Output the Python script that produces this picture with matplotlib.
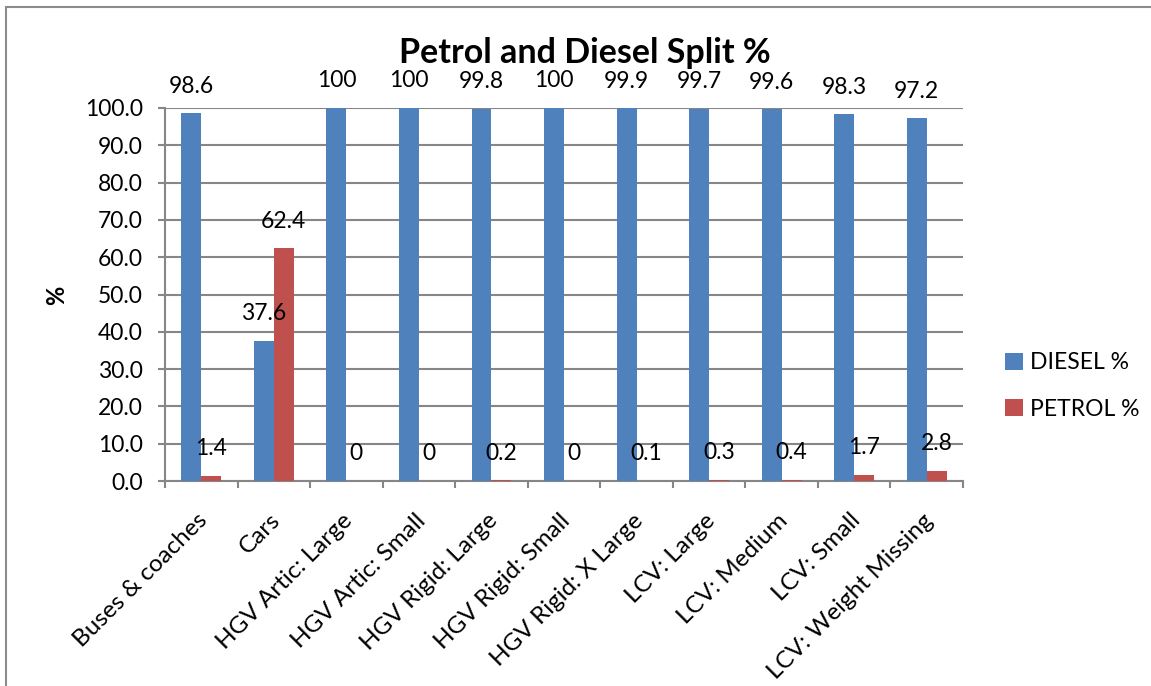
import matplotlib
matplotlib.use("Agg")
import matplotlib.pyplot as plt
import numpy as np
from matplotlib.patches import Rectangle
from matplotlib.transforms import ScaledTranslation

categories = ["Buses & coaches", "Cars", "HGV Artic: Large", "HGV Artic: Small",
              "HGV Rigid: Large", "HGV Rigid: Small", "HGV Rigid: X Large",
              "LCV: Large", "LCV: Medium", "LCV: Small", "LCV: Weight Missing"]
diesel = [98.6, 37.6, 100, 100, 99.8, 100, 99.9, 99.7, 99.6, 98.3, 97.2]
petrol = [1.4, 62.4, 0, 0, 0.2, 0, 0.1, 0.3, 0.4, 1.7, 2.8]
series_names = ["DIESEL %", "PETROL %"]
yticks = [0, 10, 20, 30, 40, 50, 60, 70, 80, 90, 100]

plt.rcParams['font.family'] = ['Lato', 'DejaVu Sans']

W, H = 1151, 686
fig = plt.figure(figsize=(W / 100, H / 100), dpi=100)
ax = fig.add_axes([165 / W, 1 - 481 / H, (963 - 165) / W, (481 - 108) / H])

blue = "#4F81BD"
red = "#C0504D"
grid = "#868686"
fs = 16.5

x = np.arange(len(categories))
bw = 0.274
b1 = ax.bar(x - bw / 2, diesel, bw, color=blue, label=series_names[0], zorder=3)
b2 = ax.bar(x + bw / 2, petrol, bw, color=red, label=series_names[1], zorder=3)

for rects, vals in ((b1, diesel), (b2, petrol)):
    for r, v in zip(rects, vals):
        ax.annotate(f"{v:g}", (r.get_x() + r.get_width() / 2, r.get_height()),
                    xytext=(0, 12), textcoords="offset points",
                    ha="center", va="bottom", fontsize=fs, zorder=5,
                    annotation_clip=False)

ax.set_xlim(-0.5, len(categories) - 0.5)
ax.set_ylim(0, 100)
ax.set_yticks(yticks)
ax.set_yticklabels([f"{t:.1f}" for t in yticks], fontsize=fs)
ax.yaxis.grid(True, color=grid, linewidth=1.5, zorder=0)
ax.set_axisbelow(True)

ax.set_xticks(x)
ax.set_xticklabels(categories, rotation=45, ha="right", va="center",
                   rotation_mode="anchor", fontsize=17.5)
ax.set_xticks(np.arange(len(categories) + 1) - 0.5, minor=True)
ax.tick_params(axis="x", which="major", length=0, pad=26)
ax.tick_params(axis="x", which="minor", length=5, width=1.5, color=grid)
ax.tick_params(axis="y", length=5, width=1.5, color=grid, pad=11)
for lab in ax.get_xticklabels():
    lab.set_transform(lab.get_transform() + ScaledTranslation(3 / 100, 0, fig.dpi_scale_trans))

for s in ("top", "right"):
    ax.spines[s].set_visible(False)
for s in ("left", "bottom"):
    ax.spines[s].set_color(grid)
    ax.spines[s].set_linewidth(1.5)

ax.set_ylabel("%", fontsize=17, fontweight="bold", va="center")
ax.yaxis.set_label_coords((57 - 165) / 798, (481 - 295) / 373)

fig.text(585 / W, 1 - 53 / H, "Petrol and Diesel Split %", ha="center", va="center",
         fontsize=24.5, fontweight="bold")

leg = fig.legend(handles=[b1, b2], labels=series_names, loc="center left",
                 bbox_to_anchor=(1005 / W, 1 - 386 / H), frameon=False, fontsize=fs,
                 handlelength=0.8, handleheight=0.8, handletextpad=0.3, labelspacing=1.1,
                 borderpad=0, borderaxespad=0)

fig.patches.append(Rectangle((6 / W, -0.1), 2, 1.1 - 7.5 / H, transform=fig.transFigure,
                             fill=False, edgecolor="#8c8c8c", linewidth=1.5))

fig.savefig("out.png", dpi=100)
